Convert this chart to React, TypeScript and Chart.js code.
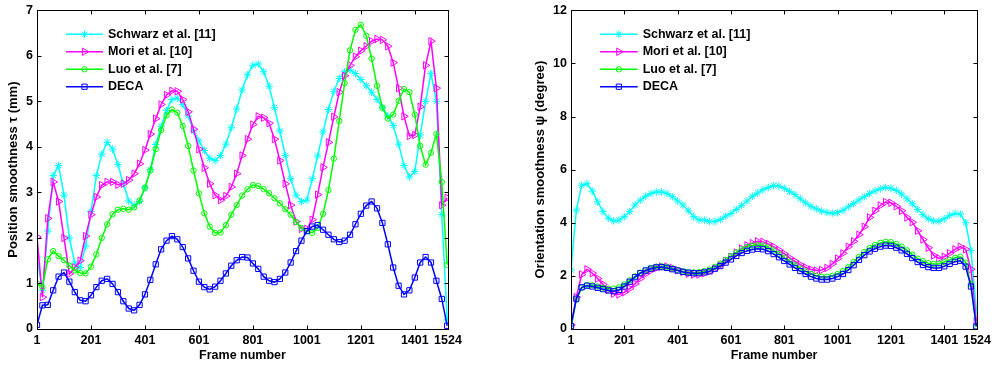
import React, { useEffect, useRef } from "react";
import { Chart, registerables } from "chart.js";

Chart.register(...registerables);

const FONT = '"Liberation Sans", Arial, sans-serif';
const FONT_SIZE = 12.5;

const frames = [
  1, 21, 41, 61, 81, 101, 121, 141, 161, 181,
  201, 221, 241, 261, 281, 301, 321, 341, 361, 381,
  401, 421, 441, 461, 481, 501, 521, 541, 561, 581,
  601, 621, 641, 661, 681, 701, 721, 741, 761, 781,
  801, 821, 841, 861, 881, 901, 921, 941, 961, 981,
  1001, 1021, 1041, 1061, 1081, 1101, 1121, 1141, 1161, 1181,
  1201, 1221, 1241, 1261, 1281, 1301, 1321, 1341, 1361, 1381,
  1401, 1421, 1441, 1461, 1481, 1501, 1521,
];
const xTickValues = [1, 201, 401, 601, 801, 1001, 1201, 1401, 1524];
const posTickValues = [0, 1, 2, 3, 4, 5, 6, 7];
const oriTickValues = [0, 2, 4, 6, 8, 10, 12];
const legendLabels = ["Schwarz et al. [11]", "Mori et al. [10]", "Luo et al. [7]", "DECA"];

// Left panel: position smoothness (mm)
const posSchwarz = [
  1.58, 0.85, 2.15, 3.37, 3.59, 2.94, 2.0, 1.45, 1.35, 1.82,
  2.58, 3.37, 3.84, 4.1, 3.95, 3.61, 3.19, 2.81, 2.72, 2.8,
  3.1, 3.5, 4.05, 4.45, 4.8, 5.04, 5.07, 4.93, 4.68, 4.35,
  4.13, 3.92, 3.75, 3.7, 3.81, 4.06, 4.42, 4.83, 5.25, 5.58,
  5.79, 5.82, 5.65, 5.33, 4.86, 4.35, 3.81, 3.3, 2.94, 2.8,
  2.83, 3.3, 3.8, 4.33, 4.82, 5.22, 5.5, 5.65, 5.69, 5.61,
  5.48, 5.34, 5.2, 5.04, 4.86, 4.68, 4.47, 4.06, 3.59, 3.34,
  3.46, 4.26, 5.0, 5.61, 5.0, 2.51, 0.2,
];
const posMori = [
  2.02, 0.7, 2.43, 3.23, 2.8, 2.0, 1.21, 1.35, 1.5, 2.04,
  2.51, 2.9, 3.16, 3.23, 3.23, 3.17, 3.19, 3.27, 3.41, 3.63,
  3.93, 4.28, 4.62, 4.93, 5.14, 5.23, 5.22, 5.04, 4.77, 4.39,
  3.95, 3.54, 3.19, 2.94, 2.83, 2.92, 3.12, 3.41, 3.81, 4.17,
  4.49, 4.67, 4.64, 4.52, 4.17, 3.7, 3.19, 2.72, 2.36, 2.2,
  2.2, 2.4, 2.95, 3.55, 4.1, 4.66, 5.2, 5.56, 5.79, 5.98,
  6.11, 6.21, 6.32, 6.37, 6.35, 6.21, 5.85, 5.29, 4.67, 4.24,
  4.26, 4.88, 5.79, 6.32, 5.29, 2.72, 2.88,
];
const posLuo = [
  1.0, 0.92, 1.53, 1.71, 1.6, 1.51, 1.39, 1.29, 1.23, 1.22,
  1.37, 1.64, 2.0, 2.3, 2.52, 2.62, 2.64, 2.62, 2.67, 2.82,
  3.1, 3.48, 3.95, 4.37, 4.69, 4.82, 4.75, 4.46, 4.02, 3.48,
  2.98, 2.54, 2.25, 2.11, 2.12, 2.28, 2.51, 2.72, 2.93, 3.07,
  3.16, 3.14, 3.07, 2.98, 2.87, 2.76, 2.63, 2.51, 2.35, 2.22,
  2.15, 2.11, 2.22, 2.53, 3.05, 3.74, 4.57, 5.4, 6.12, 6.57,
  6.68, 6.44, 5.94, 5.34, 4.86, 4.62, 4.71, 5.01, 5.27, 5.2,
  4.71, 4.02, 3.61, 3.87, 4.28, 3.23, 1.41,
];
const posDeca = [
  0.09, 0.52, 0.53, 0.85, 1.15, 1.24, 1.04, 0.81, 0.63, 0.61,
  0.74, 0.92, 1.06, 1.1, 0.99, 0.81, 0.61, 0.45, 0.41, 0.53,
  0.76, 1.08, 1.42, 1.75, 1.94, 2.04, 1.97, 1.8, 1.55, 1.28,
  1.04, 0.92, 0.87, 0.93, 1.06, 1.22, 1.39, 1.51, 1.58, 1.57,
  1.44, 1.32, 1.15, 1.06, 1.03, 1.1, 1.24, 1.46, 1.71, 1.94,
  2.15, 2.25, 2.28, 2.18, 2.07, 1.97, 1.91, 1.94, 2.07, 2.3,
  2.53, 2.71, 2.8, 2.65, 2.33, 1.86, 1.35, 0.95, 0.76, 0.85,
  1.13, 1.46, 1.58, 1.46, 1.06, 0.66, 0.07,
];

// Right panel: orientation smoothness (degree)
const oriSchwarz = [
  2.22, 4.48, 5.41, 5.47, 5.19, 4.79, 4.42, 4.17, 4.07, 4.1,
  4.23, 4.42, 4.67, 4.85, 5.0, 5.1, 5.16, 5.16, 5.1, 4.98,
  4.82, 4.67, 4.45, 4.23, 4.11, 4.1, 4.05, 4.05, 4.12, 4.25,
  4.35, 4.5, 4.65, 4.82, 5.0, 5.12, 5.25, 5.33, 5.4, 5.38,
  5.3, 5.18, 5.06, 4.9, 4.75, 4.62, 4.52, 4.44, 4.39, 4.36,
  4.38, 4.47, 4.6, 4.72, 4.86, 4.98, 5.1, 5.2, 5.28, 5.33,
  5.3, 5.22, 5.08, 4.9, 4.72, 4.5, 4.3, 4.15, 4.07, 4.06,
  4.15, 4.28, 4.35, 4.33, 4.0, 2.96, 0.72,
];
const oriMori = [
  0.15, 1.2, 2.05, 2.25, 2.1, 1.9, 1.68, 1.48, 1.33, 1.3,
  1.38, 1.52, 1.7, 1.9, 2.08, 2.2, 2.3, 2.35, 2.35, 2.3,
  2.22, 2.15, 2.08, 2.05, 2.05, 2.1, 2.17, 2.27, 2.4, 2.56,
  2.72, 2.88, 3.03, 3.15, 3.23, 3.3, 3.28, 3.2, 3.1, 2.97,
  2.83, 2.68, 2.55, 2.42, 2.32, 2.24, 2.2, 2.22, 2.3, 2.45,
  2.65, 2.85, 3.1, 3.3, 3.55, 3.85, 4.2, 4.45, 4.65, 4.78,
  4.75, 4.62, 4.45, 4.2, 4.02, 3.7, 3.37, 3.06, 2.77, 2.66,
  2.72, 2.85, 3.0, 3.1, 3.0, 2.25, 0.3,
];
const oriLuo = [
  0.05, 1.1, 1.55, 1.65, 1.65, 1.6, 1.55, 1.52, 1.52, 1.57,
  1.68, 1.83, 1.98, 2.12, 2.22, 2.3, 2.35, 2.36, 2.33, 2.28,
  2.22, 2.17, 2.14, 2.13, 2.14, 2.18, 2.24, 2.34, 2.46, 2.6,
  2.74, 2.88, 3.0, 3.09, 3.14, 3.16, 3.14, 3.07, 2.96, 2.83,
  2.68, 2.53, 2.4, 2.28, 2.17, 2.07, 2.0, 1.97, 1.97, 2.0,
  2.07, 2.18, 2.33, 2.52, 2.72, 2.9, 3.05, 3.16, 3.24, 3.28,
  3.27, 3.2, 3.1, 2.96, 2.8, 2.65, 2.55, 2.48, 2.45, 2.46,
  2.52, 2.6, 2.68, 2.72, 2.5, 1.7, 0.08,
];
const oriDeca = [
  0.11, 1.14, 1.57, 1.63, 1.6, 1.55, 1.5, 1.45, 1.42, 1.47,
  1.6, 1.78, 1.95, 2.1, 2.2, 2.27, 2.32, 2.33, 2.3, 2.25,
  2.2, 2.15, 2.12, 2.1, 2.1, 2.13, 2.17, 2.27, 2.37, 2.5,
  2.62, 2.75, 2.86, 2.94, 2.99, 3.02, 3.0, 2.93, 2.82, 2.7,
  2.56, 2.43, 2.3, 2.18, 2.07, 1.97, 1.9, 1.86, 1.86, 1.9,
  1.97, 2.07, 2.22, 2.4, 2.6, 2.78, 2.92, 3.02, 3.1, 3.14,
  3.13, 3.06, 2.96, 2.83, 2.67, 2.52, 2.41, 2.33, 2.3, 2.3,
  2.36, 2.45, 2.53, 2.57, 2.35, 1.6, 0.1,
];

const seriesStyles = [
  { color: "#00ffff", pointStyle: "star", radius: 3.8, rotation: 0 },
  { color: "#ff00ff", pointStyle: "triangle", radius: 4.3, rotation: 90 },
  { color: "#00ff00", pointStyle: "circle", radius: 2.7, rotation: 0 },
  { color: "#0000ff", pointStyle: "rect", radius: 3.7, rotation: 0 },
];

function drawMarker(ctx: CanvasRenderingContext2D, style: string, x: number, y: number, r: number, rotDeg: number) {
  ctx.beginPath();
  if (style === "star") {
    for (let a = 0; a < 4; a++) {
      const ang = (a * Math.PI) / 4;
      const dx = Math.cos(ang) * r;
      const dy = Math.sin(ang) * r;
      ctx.moveTo(x - dx, y - dy);
      ctx.lineTo(x + dx, y + dy);
    }
  } else if (style === "triangle") {
    let rad = (rotDeg * Math.PI) / 180;
    ctx.moveTo(x + Math.sin(rad) * r, y - Math.cos(rad) * r);
    rad += (2 * Math.PI) / 3;
    ctx.lineTo(x + Math.sin(rad) * r, y - Math.cos(rad) * r);
    rad += (2 * Math.PI) / 3;
    ctx.lineTo(x + Math.sin(rad) * r, y - Math.cos(rad) * r);
    ctx.closePath();
  } else if (style === "circle") {
    ctx.arc(x, y, r, 0, Math.PI * 2);
  } else {
    const s = Math.SQRT1_2 * r;
    ctx.rect(x - s, y - s, 2 * s, 2 * s);
  }
  ctx.stroke();
}

const matlabAxes = {
  id: "matlabAxes",
  afterDatasetsDraw(chart: any) {
    const { ctx, chartArea, scales } = chart;
    const L = Math.round(chartArea.left) + 0.5;
    const R = Math.round(chartArea.right) + 0.5;
    const T = Math.round(chartArea.top) + 0.5;
    const B = Math.round(chartArea.bottom) + 0.5;
    ctx.save();
    ctx.strokeStyle = "#000";
    ctx.lineWidth = 1;
    ctx.strokeRect(L, T, R - L, B - T);
    ctx.beginPath();
    const tl = 4;
    for (const v of xTickValues) {
      const px = Math.round(scales.x.getPixelForValue(v)) + 0.5;
      ctx.moveTo(px, B);
      ctx.lineTo(px, B - tl);
      ctx.moveTo(px, T);
      ctx.lineTo(px, T + tl);
    }
    for (const t of scales.y.ticks) {
      const py = Math.round(scales.y.getPixelForValue(t.value)) + 0.5;
      ctx.moveTo(L, py);
      ctx.lineTo(L + tl, py);
      ctx.moveTo(R, py);
      ctx.lineTo(R - tl, py);
    }
    ctx.stroke();
    ctx.restore();
  },
};

const insideLegend = {
  id: "insideLegend",
  afterDraw(chart: any, _args: any, opts: any) {
    const { ctx } = chart;
    ctx.save();
    ctx.font = `bold ${FONT_SIZE}px ${FONT}`;
    ctx.textBaseline = "middle";
    ctx.textAlign = "left";
    legendLabels.forEach((label, i) => {
      const st = seriesStyles[i];
      const y = opts.rows[i];
      ctx.strokeStyle = st.color;
      ctx.lineWidth = 1.5;
      ctx.beginPath();
      ctx.moveTo(opts.x1, y);
      ctx.lineTo(opts.x2, y);
      ctx.stroke();
      ctx.lineWidth = 1;
      drawMarker(ctx, st.pointStyle, (opts.x1 + opts.x2) / 2, y, st.radius, st.rotation);
      ctx.fillStyle = "#000";
      ctx.fillText(label, opts.textX, y);
    });
    ctx.restore();
  },
};

function makeConfig(
  values: number[][],
  yMax: number,
  yTicks: number[],
  yTitle: string,
  yWidth: number,
  yTitlePad: number,
  padRight: number,
  legend: any
) {
  const font = { family: FONT, size: FONT_SIZE, weight: "bold" as const };
  return {
    type: "line" as const,
    data: {
      datasets: values.map((vals, i) => {
        const st = seriesStyles[i];
        return {
          label: legendLabels[i],
          data: frames.map((f, j) => ({ x: f, y: vals[j] })),
          borderColor: st.color,
          borderWidth: 1.5,
          pointStyle: st.pointStyle,
          pointRadius: st.radius,
          pointRotation: st.rotation,
          pointBorderColor: st.color,
          pointBackgroundColor: "rgba(0,0,0,0)",
          pointBorderWidth: 1,
          fill: false,
          tension: 0,
          order: 4 - i,
        };
      }),
    },
    options: {
      animation: false,
      responsive: false,
      maintainAspectRatio: false,
      layout: { padding: { left: 0, right: padRight, top: 6, bottom: 0 } },
      plugins: {
        legend: { display: false },
        tooltip: { enabled: false },
        insideLegend: legend,
      },
      scales: {
        x: {
          type: "linear",
          min: 1,
          max: 1524,
          afterBuildTicks: (s: any) => {
            s.ticks = xTickValues.map((v) => ({ value: v }));
          },
          ticks: {
            autoSkip: false,
            maxRotation: 0,
            minRotation: 0,
            padding: 4,
            color: "#000",
            font,
            callback: (v: any) => String(v),
          },
          grid: { display: false, drawTicks: false },
          border: { display: false },
          title: {
            display: true,
            text: "Frame number",
            color: "#000",
            font,
            padding: { top: 0, bottom: 4.5 },
          },
          afterFit: (s: any) => {
            s.height = 39;
          },
        },
        y: {
          type: "linear",
          min: 0,
          max: yMax,
          afterBuildTicks: (s: any) => {
            s.ticks = yTicks.map((v) => ({ value: v }));
          },
          ticks: {
            padding: 4,
            color: "#000",
            font: { ...font, lineHeight: 1 },
          },
          grid: { display: false, drawTicks: false },
          border: { display: false },
          title: {
            display: true,
            text: yTitle,
            color: "#000",
            font: { ...font, size: 13 },
            padding: { top: yTitlePad, bottom: 0 },
          },
          afterFit: (s: any) => {
            s.width = yWidth;
          },
        },
      },
    },
    plugins: [matlabAxes, insideLegend],
  };
}

function ChartCanvas(props: { config: any; width: number; height: number; left: number }) {
  const ref = useRef<HTMLCanvasElement>(null);
  useEffect(() => {
    if (!ref.current) return;
    const chart = new Chart(ref.current, props.config);
    return () => chart.destroy();
  }, []);
  return (
    <canvas
      ref={ref}
      width={props.width}
      height={props.height}
      style={{ position: "absolute", left: props.left, top: 0, width: props.width, height: props.height, display: "block" }}
    />
  );
}

export default function App() {
  const leftConfig = makeConfig(
    [posSchwarz, posMori, posLuo, posDeca],
    7,
    posTickValues,
    "Position smoothness \u03c4 (mm)",
    37,
    5.5,
    49,
    { x1: 66, x2: 103, textX: 108, rows: [34.3, 51.7, 69.3, 86.7] }
  );
  const rightConfig = makeConfig(
    [oriSchwarz, oriMori, oriLuo, oriDeca],
    12,
    oriTickValues,
    "Orientation smoothness \u03c8 (degree)",
    74,
    36,
    13,
    { x1: 103, x2: 140.7, textX: 145.7, rows: [34.3, 51.7, 69.3, 86.7] }
  );
  return (
    <div style={{ position: "fixed", left: 0, top: 0, width: 995, height: 368, background: "#fff", overflow: "hidden" }}>
      <ChartCanvas config={leftConfig} width={497} height={368} left={0} />
      <ChartCanvas config={rightConfig} width={498} height={368} left={497} />
    </div>
  );
}
